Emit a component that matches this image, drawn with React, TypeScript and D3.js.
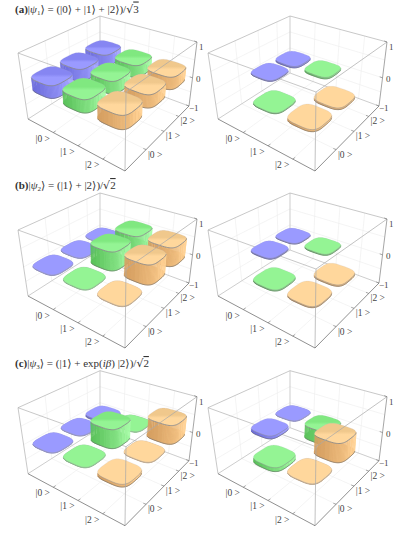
import React from 'react';
import * as d3 from 'd3';

const kets = ['|0 >', '|1 >', '|2 >'];
const zTicks = [-1, 0, 1];
const zTickLabels = ['\u22121', '0', '1'];
const indices = [0, 1, 2];

// where the ket ticks sit along the two front floor edges
const tickFracU = [0.26, 0.515, 0.77];
const tickFracV = [0.33, 0.61, 0.84];

// density matrix parts, rows are the first axis, null = no bar drawn
const realA = [[0.33, 0.33, 0.33], [0.33, 0.33, 0.33], [0.33, 0.33, 0.33]];
const imagA = [[null, 0.02, -0.05], [-0.02, null, -0.05], [-0.06, -0.05, null]];
const realB = [[0.01, 0.01, 0.01], [0.01, 0.5, 0.5], [0.01, 0.5, 0.5]];
const imagB = [[null, -0.03, -0.02], [-0.03, null, -0.03], [-0.03, -0.04, null]];
const realC = [[0.01, 0.01, -0.06], [0.01, 0.5, 0.01], [-0.08, 0.01, 0.5]];
const imagC = [[null, -0.1, 0.01], [-0.12, null, -0.45], [0.01, 0.48, null]];

const rowColors = [
  {top: '#9a9aff', topBack: '#8686f2', dark: '#7070de', light: '#a0a0ff'},
  {top: '#94f494', topBack: '#80e880', dark: '#60c660', light: '#a2f8a2'},
  {top: '#ffd79c', topBack: '#f0c88c', dark: '#d8a264', light: '#ffd092'},
];

const panels = [
  {dx: 0, dy: 0, values: realA},
  {dx: 190, dy: 0, values: imagA},
  {dx: 0, dy: 177, values: realB},
  {dx: 190, dy: 177, values: imagB},
  {dx: 0, dy: 354.7, values: realC},
  {dx: 190, dy: 354.7, values: imagC},
];

// screen corners of the box for the first panel: left, front, right, back
const floorQuad = [[28, 119], [125, 171], [189, 106], [100, 73]];
const roofQuad = [[18, 53], [126, 92], [197, 42], [100, 16]];

type Pt = [number, number];

// square to quad homography, u runs left->front, v runs left->back
const homography = (q: number[][]) => {
  const [[x0, y0], [x1, y1], [x2, y2], [x3, y3]] = q;
  const sx = x0 - x1 + x2 - x3, sy = y0 - y1 + y2 - y3;
  const dx1 = x1 - x2, dx2 = x3 - x2, dy1 = y1 - y2, dy2 = y3 - y2;
  const den = dx1 * dy2 - dx2 * dy1;
  const g = (sx * dy2 - dx2 * sy) / den;
  const h = (dx1 * sy - sx * dy1) / den;
  const a = x1 - x0 + g * x1, b = x3 - x0 + h * x3;
  const d = y1 - y0 + g * y1, e = y3 - y0 + h * y3;
  return (u: number, v: number): Pt => {
    const w = g * u + h * v + 1;
    return [(a * u + b * v + x0) / w, (d * u + e * v + y0) / w];
  };
};

const floorAt = homography(floorQuad);
const roofAt = homography(roofQuad);
// top half of the box is closer to the camera, so z=0 is under the middle
const zScale = d3.scaleLinear().domain([-1, 0, 1]).range([0, 0.44, 1]);
const cellScale = d3.scaleBand<number>().domain(indices).range([0, 1]).paddingInner(0.17).paddingOuter(0.085);

const project = (u: number, v: number, z: number): Pt => {
  const w = zScale(z);
  const a = floorAt(u, v), b = roofAt(u, v);
  return [a[0] + (b[0] - a[0]) * w, a[1] + (b[1] - a[1]) * w];
};

const lineGen = d3.line();
const closed = (pts: Pt[]) => lineGen(pts) + 'Z';
const lerp = (a: number[], b: number[], f: number): Pt => d3.interpolate(a, b)(f) as Pt;
const nudge = (p: Pt, from: number[], to: number[], px: number): Pt => {
  const len = Math.hypot(to[0] - from[0], to[1] - from[1]);
  return [p[0] + ((to[0] - from[0]) / len) * px, p[1] + ((to[1] - from[1]) / len) * px];
};

// rounded square outline, superellipse in cell coordinates
const outline = d3.range(64).map(i => {
  const t = (i / 64) * 2 * Math.PI;
  const c = Math.cos(t), s = Math.sin(t);
  const p = 2 / 3.6;
  return [Math.sign(c) * Math.abs(c) ** p, Math.sign(s) * Math.abs(s) ** p];
});

const Bar = ({i, j, value, id}: {i: number; j: number; value: number; id: string}) => {
  const bw = cellScale.bandwidth() / 2;
  const cu = cellScale(i)! + bw, cv = cellScale(j)! + bw;
  const lo = Math.min(0, value), hi = Math.max(0, value);
  const c = rowColors[i];
  const tall = Math.abs(value) > 0.2;
  const shade = d3.scaleLinear<string>().domain([-1, 1]).range([c.dark, c.light]).interpolate(d3.interpolateRgb);
  const low = outline.map(o => project(cu + o[0] * bw, cv + o[1] * bw, lo));
  const high = outline.map(o => project(cu + o[0] * bw, cv + o[1] * bw, hi));
  const walls = outline.map((_, k) => {
    const n = (k + 1) % outline.length;
    const quad: Pt[] = [low[k], low[n], high[n], high[k]];
    const nx = outline[k][0] + outline[n][0], ny = outline[k][1] + outline[n][1];
    const len = Math.hypot(nx, ny) || 1;
    return {quad, nx: nx / len, ny: ny / len, tone: ((nx + ny) / len) * 0.8, k};
  });
  // walls turned to the viewer face +u or -v
  const front = walls.filter(w => w.nx - w.ny > 0.1);
  const rim = front.map(w => w.k).sort((a, b) => ((a + 32) % 64) - ((b + 32) % 64));
  const lip = Math.abs(value) > 0.015;
  return (
    <g>
      <path d={closed(low)} fill={c.dark} stroke={c.dark} strokeWidth={0.3} />
      {front.map(w => (
        <path key={w.k} d={closed(w.quad)} fill={shade(w.tone)} stroke={shade(w.tone)} strokeWidth={0.3} />
      ))}
      <path d={lineGen(rim.map(k => low[k]))!} fill="none" stroke={lip ? '#6c6c6c' : '#999'} strokeWidth={lip ? 0.6 : 0.5} />
      <path d={closed(high)} fill={tall ? `url(#${id})` : c.top} stroke="none" />
      <path d={closed(high)} fill="none" stroke="#b0b0c0" strokeOpacity={0.5} strokeWidth={0.3} />
      <path d={lineGen(rim.map(k => high[k]))!} fill="none" stroke={lip ? '#858585' : '#a0a0a0'} strokeWidth={tall ? 0.8 : 0.4} />
    </g>
  );
};

const Panel = ({dx, dy, values, index}: {dx: number; dy: number; values: (number | null)[][]; index: number}) => {
  const fl = floorQuad, rf = roofQuad;
  const seg = (a: number[], b: number[], stroke: string, w = 0.7) => (
    <line x1={a[0]} y1={a[1]} x2={b[0]} y2={b[1]} stroke={stroke} strokeWidth={w} />
  );
  const gridZ = [-0.5, 0, 0.5];
  const zLabelDx = [0, 3.5, 2];
  const zLabelDy = [5, 4, 8];
  const bars = indices
    .flatMap(i => indices.map(j => ({i, j, value: values[i][j]})))
    .filter(b => b.value !== null)
    .sort((a, b) => a.i - a.j - (b.i - b.j));
  const gridColor = '#ededed';
  const serif = "'Liberation Serif', serif";
  return (
    <g transform={`translate(${dx},${dy})`}>
      <defs>
        {rowColors.map((c, r) => (
          <linearGradient key={r} id={`top${index}-${r}`} x1="0" y1="0" x2="0" y2="1">
            <stop offset="0" stopColor={c.topBack} />
            <stop offset="0.4" stopColor={c.topBack} />
            <stop offset="0.56" stopColor={c.top} />
            <stop offset="1" stopColor={c.top} />
          </linearGradient>
        ))}
      </defs>
      {/* faint grid on the floor and the two back walls */}
      {tickFracU.map(f => (
        <g key={f} stroke={gridColor} strokeWidth={0.6} fill="none">
          <path d={lineGen([lerp(fl[0], fl[1], f), lerp(fl[3], fl[2], f), lerp(rf[3], rf[2], f)])!} />
        </g>
      ))}
      {tickFracV.map(f => (
        <g key={f} stroke={gridColor} strokeWidth={0.6} fill="none">
          <path d={lineGen([lerp(fl[1], fl[2], f), lerp(fl[0], fl[3], f), lerp(rf[0], rf[3], f)])!} />
        </g>
      ))}
      {gridZ.map(z => (
        <path key={z} d={lineGen([project(0, 0, z), project(0, 1, z), project(1, 1, z)])!} fill="none" stroke={gridColor} strokeWidth={0.6} />
      ))}
      {/* back edges */}
      {seg(fl[0], fl[3], '#b8b8b8')}
      {seg(fl[3], fl[2], '#b8b8b8')}
      {seg(fl[3], rf[3], '#b8b8b8')}
      {seg(rf[0], rf[1], '#b0b0b0')}
      {seg(rf[0], fl[0], '#b0b0b0')}
      {bars.map(b => (
        <Bar key={`${b.i}${b.j}`} i={b.i} j={b.j} value={b.value as number} id={`top${index}-${b.i}`} />
      ))}
      {/* these edges go over the bars */}
      {seg(rf[0], rf[3], '#b0b0b0')}
      {seg(rf[3], rf[2], '#b0b0b0')}
      {seg(rf[1], rf[2], '#a8a8a8')}
      {seg(rf[1], fl[1], '#a8a8a8')}
      {seg(rf[2], fl[2], '#808080')}
      {seg(fl[0], fl[1], '#606060')}
      {seg(fl[1], fl[2], '#606060')}
      {tickFracU.map(f => {
        const p = lerp(fl[0], fl[1], f);
        return <path key={f} d={lineGen([p, nudge(p, fl[0], fl[3], 3)])!} stroke="#707070" strokeWidth={0.6} />;
      })}
      {tickFracV.map(f => {
        const p = lerp(fl[1], fl[2], f);
        return <path key={f} d={lineGen([p, nudge(p, fl[2], fl[3], 3)])!} stroke="#707070" strokeWidth={0.6} />;
      })}
      {zTicks.map(z => {
        const p = project(1, 1, z);
        return <path key={z} d={lineGen([p, nudge(p, fl[2], fl[3], 3)])!} stroke="#707070" strokeWidth={0.6} />;
      })}
      {zTicks.map((z, k) => {
        const p = project(1, 1, z);
        return (
          <text key={z} x={p[0] + zLabelDx[k]} y={p[1] + zLabelDy[k]} fontSize={9} fill="#444" fontFamily={serif}>{zTickLabels[k]}</text>
        );
      })}
      {kets.map((t, k) => {
        const p = lerp(fl[0], fl[1], tickFracU[k]);
        return (
          <text key={t} x={p[0] - 10.5} y={p[1] + 9} fontSize={9.5} fill="#444" textAnchor="middle" fontFamily={serif}>{t}</text>
        );
      })}
      {kets.map((t, k) => {
        const p = lerp(fl[1], fl[2], tickFracV[k]);
        return (
          <text key={t} x={p[0] + 9} y={p[1] + 8} fontSize={9.5} fill="#444" textAnchor="middle" fontFamily={serif}>{t}</text>
        );
      })}
    </g>
  );
};

const Root3 = ({n}: {n: string}) => (
  <>
    <tspan fontFamily="'DejaVu Sans', sans-serif">{'\u221A'}</tspan>
    <tspan textDecoration="overline">{n}</tspan>
  </>
);

const Sub = ({n}: {n: string}) => (
  <>
    <tspan fontStyle="italic">{'\u03C8'}</tspan>
    <tspan fontSize={7} dy={2}>{n}</tspan>
    <tspan dy={-2}>{'\u27E9'}</tspan>
  </>
);

const titleStyle = {fontFamily: "'Liberation Serif', 'DejaVu Serif', serif", fontSize: 11, fill: '#333'};

export default function App() {
  return (
    <svg width={415} height={537} style={{position: 'absolute', left: 0, top: 0, background: '#fff'}}>
      {panels.map((p, k) => (
        <Panel key={k} index={k} dx={p.dx} dy={p.dy} values={p.values} />
      ))}
      <text x={15} y={12.5} style={titleStyle}>
        <tspan fontWeight="bold">(a)</tspan>|<Sub n="1" /> = (|0{'\u27E9'} + |1{'\u27E9'} + |2{'\u27E9'})/<Root3 n="3" />
      </text>
      <text x={15} y={189} style={titleStyle}>
        <tspan fontWeight="bold">(b)</tspan>|<Sub n="2" /> = (|1{'\u27E9'} + |2{'\u27E9'})/<Root3 n="2" />
      </text>
      <text x={15} y={367} style={titleStyle}>
        <tspan fontWeight="bold">(c)</tspan>|<Sub n="3" /> = (|1{'\u27E9'} + exp(<tspan fontStyle="italic">i{'\u03B2'}</tspan>) |2{'\u27E9'})/<Root3 n="2" />
      </text>
    </svg>
  );
}
